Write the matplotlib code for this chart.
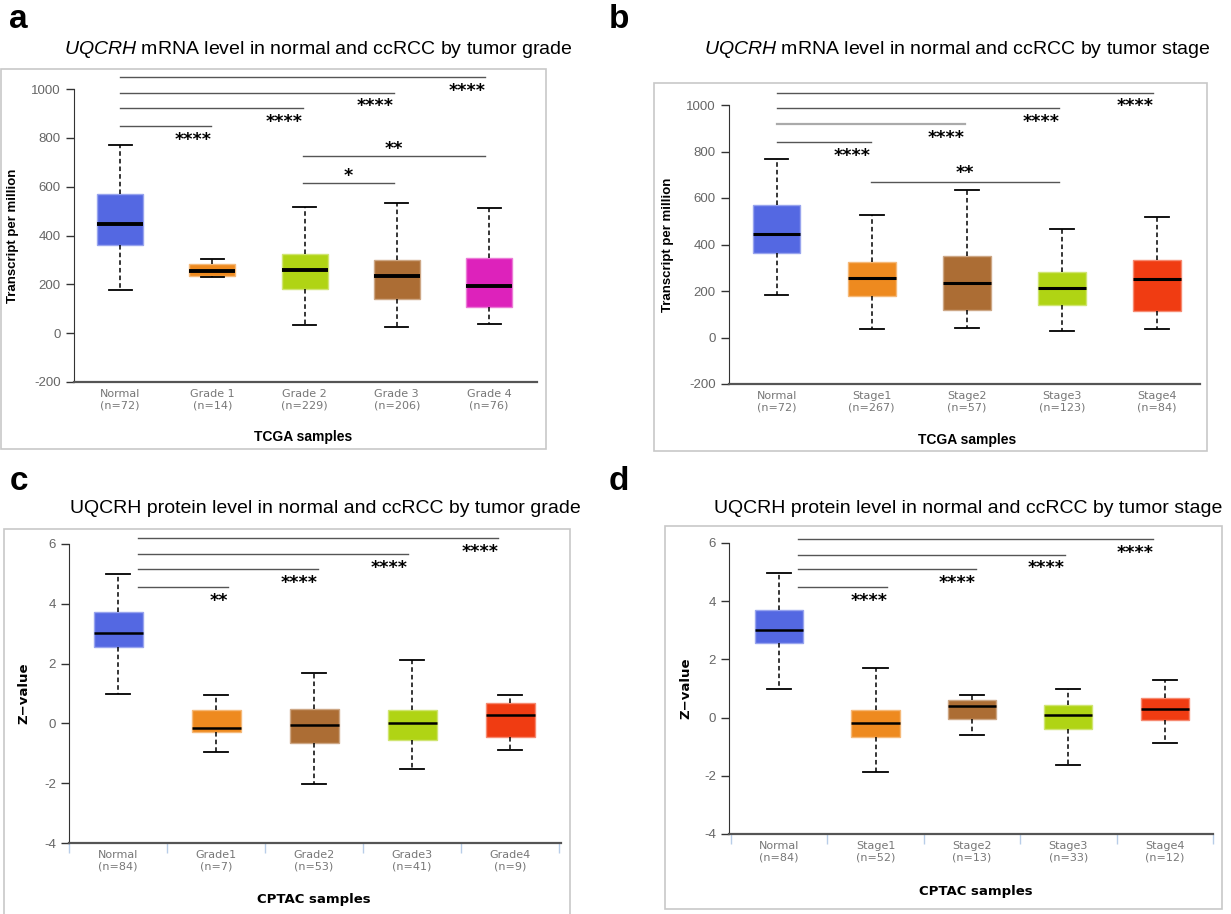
import numpy as np
import matplotlib
matplotlib.use("Agg")
import matplotlib.pyplot as plt
from matplotlib.patches import Rectangle
from matplotlib import colors as mcolors

plt.rcParams['font.family'] = ['Liberation Sans', 'DejaVu Sans']
plt.rcParams['mathtext.fontset'] = 'custom'
plt.rcParams['mathtext.it'] = 'Liberation Sans:italic'
plt.rcParams['mathtext.rm'] = 'Liberation Sans'
plt.rcParams['axes.unicode_minus'] = False

# ---- data ----
labels_a = ['Normal\n(n=72)', 'Grade 1\n(n=14)', 'Grade 2\n(n=229)', 'Grade 3\n(n=206)', 'Grade 4\n(n=76)']
a_whislo = [178, 230, 33, 25, 37]
a_q1 = [362, 235, 181, 138, 109]
a_med = [446, 256, 259, 235, 194]
a_q3 = [572, 285, 326, 301, 308]
a_whishi = [769, 305, 517, 534, 514]

labels_b = ['Normal\n(n=72)', 'Stage1\n(n=267)', 'Stage2\n(n=57)', 'Stage3\n(n=123)', 'Stage4\n(n=84)']
b_whislo = [183, 35, 39, 27, 35]
b_q1 = [365, 177, 120, 141, 113]
b_med = [446, 255, 235, 211, 250]
b_q3 = [570, 323, 352, 283, 332]
b_whishi = [769, 525, 636, 466, 518]

labels_c = ['Normal\n(n=84)', 'Grade1\n(n=7)', 'Grade2\n(n=53)', 'Grade3\n(n=41)', 'Grade4\n(n=9)']
c_whislo = [0.98, -0.96, -2.03, -1.54, -0.90]
c_q1 = [2.57, -0.28, -0.64, -0.54, -0.44]
c_med = [3.04, -0.16, -0.04, 0.02, 0.28]
c_q3 = [3.71, 0.45, 0.48, 0.45, 0.67]
c_whishi = [4.99, 0.94, 1.70, 2.12, 0.94]

labels_d = ['Normal\n(n=84)', 'Stage1\n(n=52)', 'Stage2\n(n=13)', 'Stage3\n(n=33)', 'Stage4\n(n=12)']
d_whislo = [0.98, -1.87, -0.60, -1.64, -0.89]
d_q1 = [2.55, -0.68, -0.05, -0.40, -0.08]
d_med = [3.01, -0.20, 0.40, 0.09, 0.31]
d_q3 = [3.69, 0.27, 0.62, 0.45, 0.68]
d_whishi = [4.97, 1.69, 0.79, 0.98, 1.30]

# significance: (group i, group j, bracket height, label)
sig_a = [(0, 1, 847, '****'), (0, 2, 921, '****'), (0, 3, 985, '****'), (0, 4, 1048, '****'),
         (2, 3, 613, '*'), (2, 4, 725, '**')]
sig_b = [(0, 1, 841, '****'), (0, 2, 917, '****'), (0, 3, 985, '****'), (0, 4, 1053, '****'),
         (1, 3, 668, '**')]
sig_c = [(0, 1, 4.55, '**'), (0, 2, 5.15, '****'), (0, 3, 5.65, '****'), (0, 4, 6.19, '****')]
sig_d = [(0, 1, 4.48, '****'), (0, 2, 5.09, '****'), (0, 3, 5.60, '****'), (0, 4, 6.14, '****')]

BLUE = '#5468e2'
ORANGE = '#ee8a1f'
LIME = '#b0d414'
BROWN = '#ac6d34'
MAGENTA = '#dd22bb'
RED = '#f03c12'

W, H = 1231, 914
fig = plt.figure(figsize=(W / 100, H / 100), dpi=100)


def px_axes(l, t, r, b):
    return fig.add_axes([l / W, 1 - b / H, (r - l) / W, (b - t) / H])


def frame(l, t, r, b):
    fig.patches.append(Rectangle((l / W, 1 - b / H), (r - l) / W, (b - t) / H,
                                 transform=fig.transFigure, fill=False,
                                 ec='#c8c8c8', lw=1.2))


def lighten(c, f=0.4):
    rgb = np.array(mcolors.to_rgb(c))
    return tuple(rgb + (1 - rgb) * f)


def draw_panel(ax, labels, lo, q1, med, q3, hi, cols, med_lw):
    stats = []
    for i in range(len(labels)):
        stats.append(dict(med=med[i], q1=q1[i], q3=q3[i], whislo=lo[i], whishi=hi[i]))
    bp = ax.bxp(stats, positions=range(len(labels)), widths=0.5, capwidths=0.25,
                patch_artist=True, showfliers=False,
                whiskerprops=dict(color='black', lw=1.1, linestyle=(0, (3, 2))),
                capprops=dict(color='black', lw=1.3),
                medianprops=dict(color='black', lw=med_lw))
    for p, c in zip(bp['boxes'], cols):
        p.set_facecolor(c)
        p.set_edgecolor(lighten(c))
        p.set_linewidth(1)
    ax.set_xticks(range(len(labels)))
    ax.set_xticklabels(labels, color='#777777', fontsize=8, family='DejaVu Sans',
                       linespacing=1.25)
    ax.tick_params(axis='x', length=0, pad=5)
    ax.tick_params(axis='y', length=6, width=1, colors='#333333', labelcolor='#666666',
                   labelsize=9.5, direction='out')
    for s in ['top', 'right']:
        ax.spines[s].set_visible(False)
    ax.spines['left'].set_color('#333333')
    ax.spines['bottom'].set_color('#555555')
    ax.spines['bottom'].set_linewidth(1.6)
    ax.set_facecolor('none')


def draw_sig(ax, sig, x0, k, below_off, above_off, light=()):
    for n, (i, j, h, lab) in enumerate(sig):
        xs = x0 + k * i if i > 0 else x0
        xe = x0 + k * j
        col = '#aaaaaa' if n in light else '#555555'
        ax.plot([xs, xe], [h, h], color=col, lw=1.0 if n not in light else 1.6,
                clip_on=False)
        if i == 0:
            ax.annotate(lab, (xe, h), xytext=(0, below_off), textcoords='offset points',
                        ha='right', va='baseline', fontsize=12.5, fontweight='bold',
                        family='DejaVu Sans', annotation_clip=False)
        else:
            ax.annotate(lab, ((xs + xe) / 2, h), xytext=(0, above_off),
                        textcoords='offset points', ha='center', va='baseline',
                        fontsize=12.5, fontweight='bold', family='DejaVu Sans',
                        annotation_clip=False)


# frames
frame(1, 69, 546, 449)
frame(654, 83, 1207, 451)
frame(4, 529, 570, 925)
frame(665, 526, 1222, 909)

# ---- panel a ----
ax = px_axes(74, 89, 537, 382)
draw_panel(ax, labels_a, a_whislo, a_q1, a_med, a_q3, a_whishi,
           [BLUE, ORANGE, LIME, BROWN, MAGENTA], 2.8)
ax.set_xlim(-0.5, 4.52)
ax.set_ylim(-200, 1000)
ax.set_yticks(np.arange(-200, 1001, 200))
draw_sig(ax, sig_a, 0, 0.99, -13.5, 1.8)
ax.set_ylabel('Transcript per million', fontsize=9.5, fontweight='bold')
ax.yaxis.set_label_coords(-55 / 463, 0.5)
ax.set_xlabel('TCGA samples', fontsize=10, fontweight='bold')
ax.xaxis.set_label_coords((303 - 74) / 463, -(430 - 382) / 293)

# ---- panel b ----
ax = px_axes(729, 105, 1200, 384)
draw_panel(ax, labels_b, b_whislo, b_q1, b_med, b_q3, b_whishi,
           [BLUE, ORANGE, BROWN, LIME, RED], 2.2)
ax.set_xlim(-0.5, 4.45)
ax.set_ylim(-200, 1000)
ax.set_yticks(np.arange(-200, 1001, 200))
draw_sig(ax, sig_b, 0, 0.99, -13.5, 3.2, light=(1,))
ax.set_ylabel('Transcript per million', fontsize=9.5, fontweight='bold')
ax.yaxis.set_label_coords((674 - 729) / 471, 0.5)
ax.set_xlabel('TCGA samples', fontsize=10, fontweight='bold')
ax.xaxis.set_label_coords((967 - 729) / 471, -(433 - 384) / 279)

# ---- panel c ----
ax = px_axes(69, 544, 561, 843)
draw_panel(ax, labels_c, c_whislo, c_q1, c_med, c_q3, c_whishi,
           [BLUE, ORANGE, BROWN, LIME, RED], 1.8)
ax.set_xlim(-0.5, 4.52)
ax.set_ylim(-4, 6)
ax.set_yticks(np.arange(-4, 7, 2))
ax.set_xticks(np.arange(-0.5, 5, 1), minor=True)
ax.tick_params(axis='x', which='minor', length=7, width=1, color='#b8cde8')
draw_sig(ax, sig_c, 0.2, 0.92, -13.5, 1.8)
ax.set_ylabel('Z\u2212value', fontsize=9.5, fontweight='bold', family='DejaVu Sans')
ax.yaxis.set_label_coords((30 - 69) / 492, 0.5)
ax.set_xlabel('CPTAC samples', fontsize=9.5, fontweight='bold', family='DejaVu Sans')
ax.xaxis.set_label_coords((314 - 69) / 492, -(893 - 843) / 299)

# ---- panel d ----
ax = px_axes(729, 543, 1213, 834)
draw_panel(ax, labels_d, d_whislo, d_q1, d_med, d_q3, d_whishi,
           [BLUE, ORANGE, BROWN, LIME, RED], 1.8)
ax.set_xlim(-0.52, 4.43)
ax.set_ylim(-4, 6)
ax.set_yticks(np.arange(-4, 7, 2))
ax.set_xticks(np.arange(-0.5, 5, 1), minor=True)
ax.tick_params(axis='x', which='minor', length=7, width=1, color='#b8cde8')
draw_sig(ax, sig_d, 0.2, 0.92, -13.5, 1.8)
ax.set_ylabel('Z\u2212value', fontsize=9.5, fontweight='bold', family='DejaVu Sans')
ax.yaxis.set_label_coords((692 - 729) / 484, 0.5)
ax.set_xlabel('CPTAC samples', fontsize=9.5, fontweight='bold', family='DejaVu Sans')
ax.xaxis.set_label_coords((976 - 729) / 484, -(885 - 834) / 291)

# titles and panel letters
fig.text(318 / W, 1 - 54 / H, r'$\it{UQCRH}$ mRNA level in normal and ccRCC by tumor grade',
         ha='center', va='baseline', fontsize=14)
fig.text(957 / W, 1 - 54 / H, r'$\it{UQCRH}$ mRNA level in normal and ccRCC by tumor stage',
         ha='center', va='baseline', fontsize=14)
fig.text(325 / W, 1 - 513 / H, 'UQCRH protein level in normal and ccRCC by tumor grade',
         ha='center', va='baseline', fontsize=14)
fig.text(968 / W, 1 - 513 / H, 'UQCRH protein level in normal and ccRCC by tumor stage',
         ha='center', va='baseline', fontsize=14)

for lab, x, y in [('a', 9, 28), ('b', 609, 28), ('c', 10, 490), ('d', 609, 490)]:
    fig.text(x / W, 1 - y / H, lab, ha='left', va='baseline', fontsize=24, fontweight='bold')

fig.savefig('out.png', dpi=100)
